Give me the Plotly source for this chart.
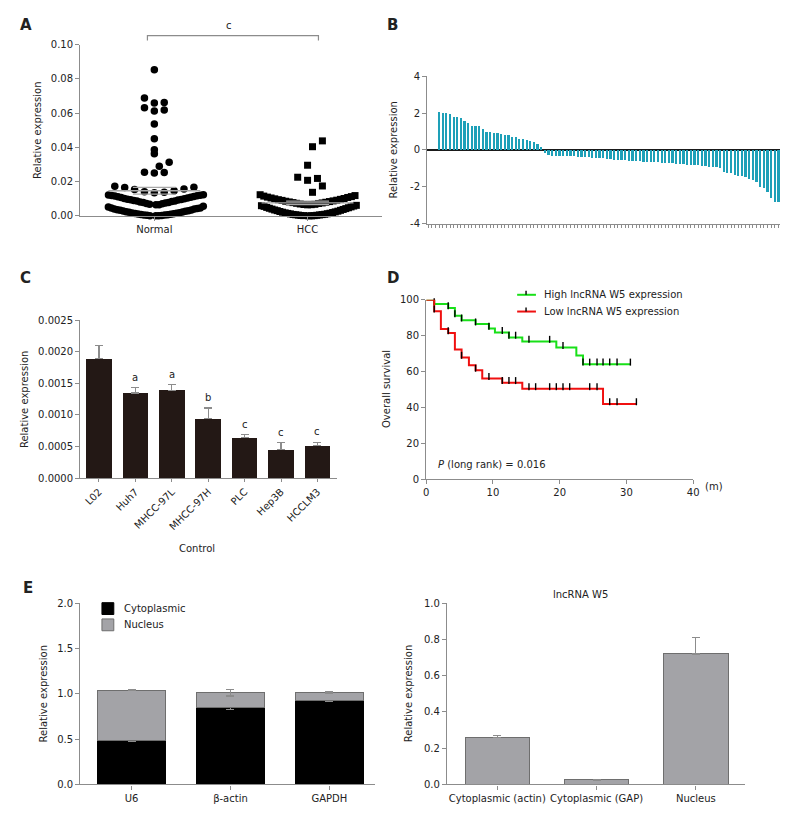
import math
import numpy as np
import plotly.graph_objects as go

# ---------------- DATA ----------------
# Panel A: relative expression of individual samples
normal_vals = [0.0853, 0.0688, 0.0662, 0.0659, 0.0631, 0.0618, 0.0612, 0.0537, 0.0451, 0.0386,
               0.0363, 0.0314, 0.0290, 0.0253, 0.0251, 0.0255,
               0.0174, 0.0168, 0.0166, 0.0158, 0.0155, 0.0147, 0.0142, 0.0139, 0.0136,
               0.0124, 0.0123, 0.0121, 0.0119, 0.0118, 0.0116, 0.0113, 0.0112, 0.0109, 0.0108,
               0.0105, 0.0102, 0.0101, 0.0098, 0.0096, 0.0094, 0.0093, 0.0090, 0.0088, 0.0087,
               0.0084, 0.0082, 0.0079, 0.0078, 0.0076, 0.0073, 0.0071, 0.0068, 0.0066, 0.0065,
               0.0057, 0.0052,
               0.0047, 0.0046, 0.0043, 0.0041, 0.0040, 0.0037, 0.0035, 0.0034, 0.0031, 0.0029,
               0.0028, 0.0025, 0.0023, 0.0022, 0.0019, 0.0018, 0.0016, 0.0014, 0.0013, 0.0011,
               0.0010, 0.0008, 0.0007, 0.0006, 0.0005, 0.0004, 0.0003, 0.0002, 0.0001, 0.0001]
hcc_vals = [0.0438, 0.0404, 0.0296, 0.0226, 0.0219, 0.0208, 0.0175, 0.0138,
            0.0124, 0.0119, 0.0116, 0.0113, 0.0110, 0.0108, 0.0105, 0.0102, 0.0100, 0.0097,
            0.0095, 0.0092, 0.0091, 0.0088, 0.0086, 0.0084, 0.0082, 0.0080, 0.0078, 0.0076,
            0.0074, 0.0073, 0.0070, 0.0068, 0.0067, 0.0066, 0.0065,
            0.0062, 0.0060, 0.0058, 0.0056, 0.0053, 0.0050, 0.0048, 0.0045, 0.0043, 0.0040,
            0.0038, 0.0035, 0.0033, 0.0031, 0.0028, 0.0026, 0.0024, 0.0022, 0.0020, 0.0018,
            0.0016, 0.0015, 0.0013, 0.0012, 0.0010, 0.0009, 0.0008, 0.0007, 0.0006, 0.0005,
            0.0004, 0.0003, 0.0002, 0.0002, 0.0001, 0.0001]
groups_a = ["Normal", "HCC"]

# Panel B: per-sample log relative expression (waterfall)
waterfall_vals = [2.05, 2.02, 1.99, 1.96, 1.80, 1.78, 1.72, 1.59, 1.44, 1.30, 1.30, 1.29, 1.16,
                  0.99, 0.97, 0.92, 0.90, 0.86, 0.81, 0.79, 0.72, 0.68, 0.59, 0.57, 0.52, 0.48,
                  0.41, 0.31, 0.18,
                  -0.18, -0.29, -0.30, -0.30, -0.31, -0.32, -0.33, -0.34, -0.35, -0.36, -0.38,
                  -0.38, -0.40, -0.41, -0.42, -0.43, -0.45, -0.47, -0.50, -0.54,
                  -0.55, -0.56, -0.57, -0.58, -0.60, -0.61, -0.62, -0.63, -0.64, -0.65, -0.66,
                  -0.67, -0.68, -0.70, -0.71, -0.73, -0.74, -0.76, -0.77, -0.79, -0.80, -0.82,
                  -0.83, -0.85, -0.88, -0.90, -0.92, -0.94, -0.97,
                  -1.20, -1.24, -1.27, -1.38, -1.40, -1.42, -1.46, -1.55, -1.65, -1.75, -1.98,
                  -2.05, -2.25, -2.60, -2.80, -2.82, -2.98]

# Panel C: cell lines
cell_lines = ["L02", "Huh7", "MHCC-97L", "MHCC-97H", "PLC", "Hep3B", "HCCLM3"]
cell_expr = [0.00189, 0.00135, 0.00139, 0.00094, 0.00064, 0.00045, 0.00051]
cell_err = [0.00021, 0.00008, 0.00009, 0.00017, 0.00005, 0.00011, 0.00006]
cell_sig = ["", "a", "a", "b", "c", "c", "c"]

# Panel D: Kaplan-Meier survival (months, %)
high_times = [0, 1.2, 3.3, 4.3, 5.3, 7.4, 9.4, 10.3, 12.4, 14.4, 19.5, 22.5, 23.5, 30.6]
high_surv = [100, 97.6, 95.4, 91.0, 88.6, 86.4, 84.0, 81.7, 79.0, 76.7, 73.3, 68.9, 64.0, 64.0]
high_censor = [1.2, 3.3, 4.3, 5.3, 7.4, 9.4, 11.4, 12.4, 13.4, 15.4, 18.5, 20.5, 23.5,
               24.5, 25.6, 26.5, 27.5, 28.6, 30.6]
low_times = [0, 1.2, 2.2, 3.3, 4.3, 5.3, 6.4, 7.4, 8.4, 11.4, 14.4, 26.5, 31.5]
low_surv = [100, 93.6, 83.7, 81.5, 72.2, 67.8, 63.4, 60.6, 56.0, 53.7, 50.3, 41.9, 41.9]
low_censor = [1.2, 3.3, 5.3, 7.4, 9.4, 11.4, 12.4, 13.4, 15.4, 16.4, 18.5, 19.5, 20.5,
              21.5, 24.5, 25.6, 27.5, 28.6, 31.5]

# Panel E left: fractionation controls
frac_genes = ["U6", "β-actin", "GAPDH"]
cyto_vals = [0.48, 0.85, 0.925]
cyto_err = [0.004, 0.02, 0.01]
nuc_vals = [0.56, 0.16, 0.085]
nuc_err = [0.005, 0.035, 0.01]

# Panel E right: lncRNA W5 localisation
loc_cats = ["Cytoplasmic (actin)", "Cytoplasmic (GAP)", "Nucleus"]
loc_vals = [0.26, 0.025, 0.72]
loc_err = [0.012, 0.004, 0.09]

# ---------------- LAYOUT HELPERS ----------------
W, H = 788, 813
FONT = "DejaVu Sans"
TXT = "#222222"
AX = "#8c8c8c"


def fx(px):
    return px / W


def fy(py):
    return 1 - py / H


def axis(**kw):
    d = dict(showline=True, linecolor=AX, linewidth=1.2, ticks="outside", tickcolor=AX,
             ticklen=4, tickwidth=1.2, showgrid=False, zeroline=False, fixedrange=True,
             tickfont=dict(family=FONT, size=10, color=TXT))
    d.update(kw)
    return d


fig = go.Figure()

# ---------------- PANEL A ----------------
A_x0, A_x1, A_y0, A_y1 = 70, 375, 205, 31
A_c0, A_c1 = 145, 300
a_px_per_x = A_c1 - A_c0


def row_scatter(vals, row_h=0.0064, max_sp=10.0, half_w=48.0):
    """GraphPad-like scatter: values binned into rows, each row spread around the centre,
    smallest value in the middle, larger ones alternating outwards."""
    vals = np.asarray(vals, dtype=float)
    offs = np.zeros(len(vals))
    rows = np.floor(vals / row_h).astype(int)
    for r in np.unique(rows):
        idx = np.where(rows == r)[0]
        idx = idx[np.argsort(vals[idx], kind="stable")]
        n = len(idx)
        sp = max_sp if n < 2 else min(max_sp, 2 * half_w / (n - 1 + (n % 2 == 0)))
        for k, i in enumerate(idx):
            step = (k + 1) // 2
            sign = 1 if k % 2 == 1 else -1
            offs[i] = sign * step * sp if n % 2 == 1 else (sign * (step + 0.5) * sp if k > 0 else 0.5 * sp)
    return offs / a_px_per_x


for gi, (vals, sym, size) in enumerate([(normal_vals, "circle", 7.5), (hcc_vals, "square", 7)]):
    offs = row_scatter(vals)
    fig.add_trace(go.Scatter(x=gi + offs, y=vals, mode="markers", xaxis="x", yaxis="y",
                             marker=dict(symbol=sym, size=size, color="black", line=dict(width=0)),
                             cliponaxis=False, showlegend=False, hoverinfo="skip"))
    m = float(np.mean(vals))
    sem = float(np.std(vals, ddof=1) / math.sqrt(len(vals)))
    for yv, half in [(m, 0.3), (m + sem, 0.14), (m - sem, 0.14)]:
        fig.add_trace(go.Scatter(x=[gi - half, gi + half], y=[yv, yv], mode="lines",
                                 xaxis="x", yaxis="y", line=dict(color="#a8a8a8", width=1.3),
                                 showlegend=False, hoverinfo="skip"))

# ---------------- PANEL B ----------------
n_b = len(waterfall_vals)
fig.add_trace(go.Bar(x=list(range(n_b)), y=waterfall_vals, xaxis="x2", yaxis="y2",
                     width=0.62, marker=dict(color="#1ea0b8", line=dict(width=0)),
                     showlegend=False, hoverinfo="skip"))

# ---------------- PANEL C ----------------
fig.add_trace(go.Bar(x=cell_lines, y=cell_expr, xaxis="x3", yaxis="y3", width=0.7,
                     marker=dict(color="#231815", line=dict(width=0)),
                     error_y=dict(type="data", array=cell_err, arrayminus=[0] * len(cell_err),
                                  symmetric=False, color="#8c8c8c", thickness=1.2, width=4),
                     showlegend=False, hoverinfo="skip"))

# ---------------- PANEL D ----------------
def step_value(times, surv, t):
    v = surv[0]
    for tt, s in zip(times, surv):
        if tt <= t:
            v = s
    return v


for times, surv, cens, col in [(high_times, high_surv, high_censor, "#18e018"),
                               (low_times, low_surv, low_censor, "#f01010")]:
    fig.add_trace(go.Scatter(x=times, y=surv, mode="lines", line=dict(shape="hv", color=col, width=2),
                             xaxis="x4", yaxis="y4", showlegend=False, hoverinfo="skip",
                             cliponaxis=False))
    fig.add_trace(go.Scatter(x=cens, y=[step_value(times, surv, t) + 1.2 for t in cens],
                             mode="markers", xaxis="x4", yaxis="y4",
                             marker=dict(symbol="line-ns-open", size=5, color="black",
                                         line=dict(color="black", width=1.4)),
                             showlegend=False, hoverinfo="skip", cliponaxis=False))

# ---------------- PANEL E left ----------------
fig.add_trace(go.Bar(x=frac_genes, y=cyto_vals, xaxis="x5", yaxis="y5", width=0.69,
                     marker=dict(color="black", line=dict(color="black", width=1)),
                     error_y=dict(type="data", array=cyto_err, color="#8c8c8c", thickness=1.2, width=4),
                     showlegend=False, hoverinfo="skip"))
fig.add_trace(go.Bar(x=frac_genes, y=nuc_vals, xaxis="x5", yaxis="y5", width=0.69,
                     marker=dict(color="#a3a3a7", line=dict(color="#6e6e6e", width=1)),
                     error_y=dict(type="data", array=nuc_err, color="#8c8c8c", thickness=1.2, width=4),
                     showlegend=False, hoverinfo="skip"))

# ---------------- PANEL E right ----------------
fig.add_trace(go.Bar(x=loc_cats, y=loc_vals, xaxis="x6", yaxis="y6", width=0.65,
                     marker=dict(color="#a3a3a7", line=dict(color="#6e6e6e", width=1)),
                     error_y=dict(type="data", array=loc_err, arrayminus=[0] * len(loc_err),
                                  symmetric=False, color="#8c8c8c", thickness=1.2, width=4),
                     showlegend=False, hoverinfo="skip"))

# ---------------- AXES ----------------
b_first, b_last, B_x0, B_x1 = 433, 780, 421, 783
b_sp = (b_last - b_first) / (n_b - 1)
c_first, c_last, C_x0, C_x1 = 89, 310, 70, 330
c_sp = (c_last - c_first) / (len(cell_lines) - 1)

fig.update_layout(
    xaxis=axis(domain=[fx(A_x0), fx(A_x1)], anchor="y",
               range=[-(A_c0 - A_x0) / a_px_per_x, 1 + (A_x1 - A_c1) / a_px_per_x],
               tickmode="array", tickvals=[0, 1], ticktext=groups_a),
    yaxis=axis(domain=[fy(A_y0), fy(A_y1)], anchor="x", range=[0, 0.10], dtick=0.02,
               tickformat=".2f"),
    xaxis2=axis(domain=[fx(B_x0), fx(B_x1)], anchor="y2",
                range=[-(b_first - B_x0) / b_sp, n_b - 1 + (B_x1 - b_last) / b_sp],
                tick0=0, dtick=1, ticklen=3, tickwidth=1, showticklabels=False),
    yaxis2=axis(domain=[fy(213), fy(63)], anchor="x2", range=[-4, 4], tickmode="array",
                tickvals=[-4, -2, 0, 2, 4], ticktext=["-4", "-2", "0", "2", "4"],
                zeroline=True, zerolinecolor="#1a1a1a", zerolinewidth=1.6),
    xaxis3=axis(domain=[fx(C_x0), fx(C_x1)], anchor="y3",
                range=[-(c_first - C_x0) / c_sp, len(cell_lines) - 1 + (C_x1 - c_last) / c_sp],
                tickangle=-45, ticklen=3),
    yaxis3=axis(domain=[fy(471), fy(311)], anchor="x3", range=[0, 0.0025], dtick=0.0005,
                tickformat=".4f"),
    xaxis4=axis(domain=[fx(420), fx(690)], anchor="y4", range=[0, 40], dtick=10),
    yaxis4=axis(domain=[fy(472), fy(290)], anchor="x4", range=[0, 100], dtick=20),
    xaxis5=axis(domain=[fx(70), fx(368)], anchor="y5", range=[-0.52, 2.46]),
    yaxis5=axis(domain=[fy(782), fy(598)], anchor="x5", range=[0, 2], dtick=0.5, tickformat=".1f"),
    xaxis6=axis(domain=[fx(441), fx(742)], anchor="y6", range=[-0.507, 2.49]),
    yaxis6=axis(domain=[fy(782), fy(598)], anchor="x6", range=[0, 1], dtick=0.2, tickformat=".1f"),
    barmode="stack",
    width=W, height=H, autosize=False,
    margin=dict(l=0, r=0, t=0, b=0),
    plot_bgcolor="white", paper_bgcolor="white",
    font=dict(family=FONT, size=10, color=TXT),
)

# ---------------- ANNOTATIONS ----------------
ann = []


def ptext(px, py, text, size=10, xanchor="center", yanchor="middle", bold=False, angle=0):
    ann.append(dict(x=fx(px), y=fy(py), xref="paper", yref="paper", text=text, showarrow=False,
                    xanchor=xanchor, yanchor=yanchor, textangle=angle,
                    font=dict(family=FONT, size=size, color="#111111" if bold else TXT)))


# panel letters
for lt, (px, py) in {"A": (15, 11), "B": (386, 11), "C": (15, 268), "D": (386, 268), "E": (17, 583)}.items():
    ptext(px, py, "<b>%s</b>" % lt, size=15)

# y-axis titles
for px, py, t in [(27, 118, "Relative expression"), (387, 138, "Relative expression"),
                  (13, 391, "Relative expression"), (380, 381, "Overall survival"),
                  (33, 690, "Relative expression"), (402, 690, "Relative expression")]:
    ptext(px, py, t, angle=-90)

# panel A significance bracket
ptext(221, 12, "c")
shapes = [dict(type="path", xref="paper", yref="paper",
               path="M %f %f L %f %f L %f %f L %f %f" % (fx(138), fy(27), fx(138), fy(22),
                                                         fx(311), fy(22), fx(311), fy(27)),
               line=dict(color=AX, width=1.2))]

# panel C letters above bars
for i, s in enumerate(cell_sig):
    if s:
        ann.append(dict(x=cell_lines[i], y=cell_expr[i] + cell_err[i], xref="x3", yref="y3",
                        text=s, showarrow=False, yanchor="bottom", yshift=3,
                        font=dict(family=FONT, size=10, color=TXT)))
ptext(188, 542, "Control")

# panel D
ptext(430, 457, "<i>P</i> (long rank) = 0.016", xanchor="left")
ptext(700, 480, "(m)", xanchor="left")
for py, col, label in [(285, "#18e018", "High lncRNA W5 expression"),
                       (302, "#f01010", "Low lncRNA W5 expression")]:
    shapes.append(dict(type="line", xref="paper", yref="paper", x0=fx(512), x1=fx(531),
                       y0=fy(py), y1=fy(py), line=dict(color=col, width=2)))
    shapes.append(dict(type="line", xref="paper", yref="paper", x0=fx(521), x1=fx(521),
                       y0=fy(py - 4), y1=fy(py), line=dict(color="black", width=1.4)))
    ptext(537, py, label, xanchor="left")

# panel E legend
for py, fill, line, label in [(603.5, "black", "black", "Cytoplasmic"),
                              (620, "#a3a3a7", "#6e6e6e", "Nucleus")]:
    shapes.append(dict(type="rect", xref="paper", yref="paper", x0=fx(92), x1=fx(104),
                       y0=fy(py + 6), y1=fy(py - 6), fillcolor=fill, line=dict(color=line, width=1)))
    ptext(112, py, label, xanchor="left")

ptext(576, 589, "lncRNA W5")

fig.update_layout(annotations=ann, shapes=shapes)
fig.write_html("out.html")
